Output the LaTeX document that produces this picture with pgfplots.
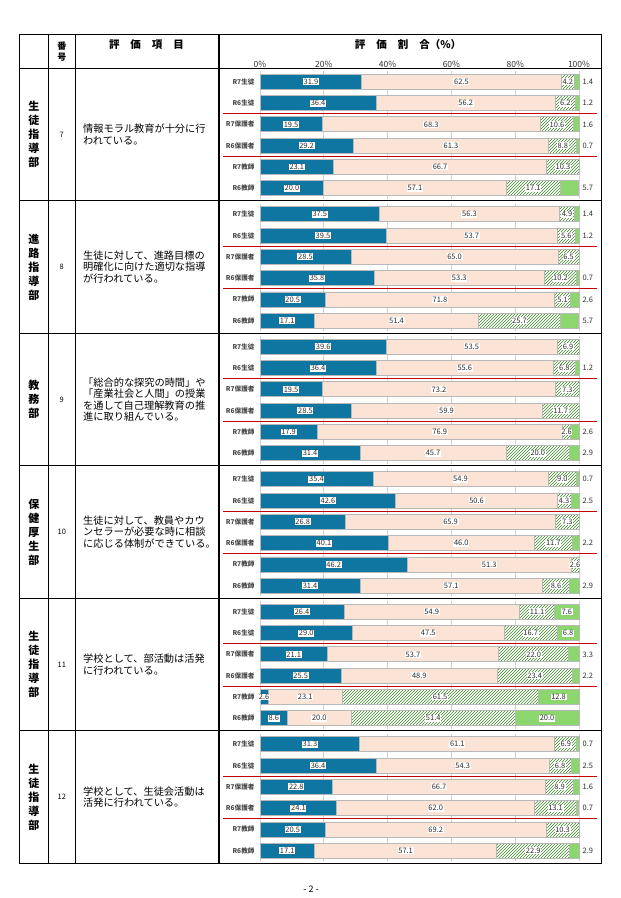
\documentclass[border=0pt]{standalone}
\usepackage{pgfplots}
\pgfplotsset{compat=1.18}
\usepackage{pgfplotstable}
\usetikzlibrary{patterns}
\usepackage{fontspec}
\setmainfont{Noto Sans CJK JP}
\definecolor{cblue}{HTML}{0E76A0}
\definecolor{cpeach}{HTML}{FBE4D5}
\definecolor{cgreen}{HTML}{8CD66E}
\definecolor{chatch}{HTML}{3F8A2A}
\definecolor{cred}{HTML}{C00000}

% columns: a = blue, b = peach, c = hatched, d = green
\pgfplotstableread{
y a b c d
0 31.9 62.5 4.2 1.4
1 36.4 56.2 6.2 1.2
2 19.5 68.3 10.6 1.6
3 29.2 61.3 8.8 0.7
4 23.1 66.7 10.3 0
5 20.0 57.1 17.1 5.7
}\tblA
\pgfplotstableread{
y a b c d
0 37.5 56.3 4.9 1.4
1 39.5 53.7 5.6 1.2
2 28.5 65.0 6.5 0
3 35.8 53.3 10.2 0.7
4 20.5 71.8 5.1 2.6
5 17.1 51.4 25.7 5.7
}\tblB
\pgfplotstableread{
y a b c d
0 39.6 53.5 6.9 0
1 36.4 55.6 6.8 1.2
2 19.5 73.2 7.3 0
3 28.5 59.9 11.7 0
4 17.9 76.9 2.6 2.6
5 31.4 45.7 20.0 2.9
}\tblC
\pgfplotstableread{
y a b c d
0 35.4 54.9 9.0 0.7
1 42.6 50.6 4.3 2.5
2 26.8 65.9 7.3 0
3 40.1 46.0 11.7 2.2
4 46.2 51.3 2.6 0
5 31.4 57.1 8.6 2.9
}\tblD
\pgfplotstableread{
y a b c d
0 26.4 54.9 11.1 7.6
1 29.0 47.5 16.7 6.8
2 21.1 53.7 22.0 3.3
3 25.5 48.9 23.4 2.2
4 2.6 23.1 61.5 12.8
5 8.6 20.0 51.4 20.0
}\tblE
\pgfplotstableread{
y a b c d
0 31.3 61.1 6.9 0.7
1 36.4 54.3 6.8 2.5
2 22.8 66.7 8.9 1.6
3 24.1 62.0 13.1 0.7
4 20.5 69.2 10.3 0
5 17.1 57.1 22.9 2.9
}\tblF

\pgfplotsset{
  chartbase/.style={
    xbar stacked, bar width=15pt,
    width=319pt, height=127.8pt, scale only axis,
    anchor=north west,
    xmin=0, xmax=100, ymin=-0.5, ymax=5.5, y dir=reverse,
    axis line style={draw=none},
    xtick={0,20,40,60,80,100}, xticklabels={},
    ytick={0,1,2,3,4,5},
    yticklabels={R7生徒,R6生徒,R7保護者,R6保護者,R7教師,R6教師},
    tick style={draw=none},
    xmajorgrids, major grid style={draw=black!18, line width=0.8pt},
    yticklabel style={font=\fontsize{6.6}{7}\selectfont\bfseries, text=black!72, xshift=-2pt},
    clip=false,
    every axis plot/.append style={draw=black!28, line width=0.8pt},
  },
  overlaybase/.style={
    width=319pt, height=127.8pt, scale only axis, anchor=north west,
    xmin=0, xmax=100, ymin=-0.5, ymax=5.5, y dir=reverse,
    hide axis, clip=false,
  },
  lblnode/.style={
    draw=none, mark=none, nodes near coords, point meta=explicit symbolic,
    every node near coord/.append style={anchor=center,
      fill=white, inner sep=0.7pt,
      font=\fontsize{7.5}{8}\selectfont, text=black!82},
  },
}

\newcommand{\chartblock}[4]{%
\begin{axis}[chartbase, at={(260pt,#1pt)}, #4]
\addplot[fill=cblue] table[x=a,y=y] {#2};
\addplot[fill=cpeach] table[x=b,y=y] {#2};
\addplot[fill=white, postaction={pattern=north east lines, pattern color=chatch}] table[x=c,y=y] {#2};
\addplot[fill=cgreen] table[x=d,y=y] {#2};
\end{axis}
\begin{axis}[overlaybase, at={(260pt,#1pt)}]
\addplot[lblnode] table[x expr=\thisrow{a}/2, y=y, meta=a] {#2};
\addplot[lblnode] table[x expr=\thisrow{a}+\thisrow{b}/2, y=y, meta=b] {#2};
\addplot[lblnode] table[x expr=\thisrow{a}+\thisrow{b}+\thisrow{c}/2, y=y, meta=c] {#2};
\addplot[lblnode] coordinates {#3};
\end{axis}
\draw[cred, line width=1pt] (223,#1-42.6) -- (597,#1-42.6);
\draw[cred, line width=1pt] (223,#1-85.2) -- (597,#1-85.2);
}

\begin{document}
\begin{tikzpicture}[x=1pt,y=1pt]
\fill[white] (0,0) rectangle (621,898);
\useasboundingbox (0,0) rectangle (621,898);

\chartblock{826.85}{\tblA}{(102.8,0)[1.4] (102.8,1)[1.2] (102.8,2)[1.6] (102.8,3)[0.7] (102.8,5)[5.7]}{xticklabels={0\%,20\%,40\%,60\%,80\%,100\%}, xticklabel pos=upper, xticklabel style={font=\fontsize{8.5}{9}\selectfont, text=black!80, yshift=0.5pt}}
\chartblock{694.35}{\tblB}{(102.8,0)[1.4] (102.8,1)[1.2] (102.8,3)[0.7] (102.8,4)[2.6] (102.8,5)[5.7]}{}
\chartblock{561.85}{\tblC}{(102.8,1)[1.2] (102.8,4)[2.6] (102.8,5)[2.9]}{}
\chartblock{429.35}{\tblD}{(102.8,0)[0.7] (102.8,1)[2.5] (102.8,3)[2.2] (102.8,5)[2.9]}{}
\chartblock{296.85}{\tblE}{(96.2,0)[7.6] (96.6,1)[6.8] (102.8,2)[3.3] (102.8,3)[2.2] (93.6,4)[12.8] (90,5)[20.0]}{}
\chartblock{164.35}{\tblF}{(102.8,0)[0.7] (102.8,1)[2.5] (102.8,2)[1.6] (102.8,3)[0.7] (102.8,5)[2.9]}{}

% table frame
\begin{scope}[line width=1.2pt]
\draw (19.3,34.7) rectangle (601.7,863.5);
\draw (48.3,34.7) -- (48.3,863.5);
\draw (75.3,34.7) -- (75.3,863.5);
\draw (219,34.7) -- (219,863.5);
\foreach \yy in {829.7,697.2,564.7,432.2,299.7,167.2} \draw (19.3,\yy) -- (601.7,\yy);
\end{scope}

% header
\node[font=\fontsize{9}{11.5}\selectfont\bfseries, align=center] at (61.8,846.5) {番\\号};
\node[font=\fontsize{10.5}{12}\selectfont\bfseries] at (146.5,853) {評\hspace{11pt}価\hspace{11pt}項\hspace{11pt}目};
\node[font=\fontsize{10.5}{12}\selectfont\bfseries] at (408,853) {評\hspace{11pt}価\hspace{11pt}割\hspace{11pt}合（\%）};

% left columns
\begin{scope}[every node/.style={font=\fontsize{11}{14}\selectfont\bfseries, align=center}]
\node at (33.8,763.45) {生\\徒\\指\\導\\部};
\node at (33.8,630.95) {進\\路\\指\\導\\部};
\node at (33.8,498.45) {教\\務\\部};
\node at (33.8,365.95) {保\\健\\厚\\生\\部};
\node at (33.8,233.45) {生\\徒\\指\\導\\部};
\node at (33.8,100.95) {生\\徒\\指\\導\\部};
\end{scope}
\begin{scope}[every node/.style={font=\fontsize{7.5}{9}\selectfont}]
\node at (61.8,763.45) {7};
\node at (61.8,630.95) {8};
\node at (61.8,498.45) {9};
\node at (61.8,365.95) {10};
\node at (61.8,233.45) {11};
\node at (61.8,100.95) {12};
\end{scope}
\begin{scope}[every node/.style={font=\fontsize{10.2}{11.4}\selectfont, align=left, anchor=west, inner sep=0pt}]
\node at (83,763.45) {情報モラル教育が十分に行\\われている。};
\node at (83,630.95) {生徒に対して、進路目標の\\明確化に向けた適切な指導\\が行われている。};
\node at (83,498.45) {「総合的な探究の時間」や\\「産業社会と人間」の授業\\を通して自己理解教育の推\\進に取り組んでいる。};
\node at (83,365.95) {生徒に対して、教員やカウ\\ンセラーが必要な時に相談\\に応じる体制ができている。};
\node at (83,233.45) {学校として、部活動は活発\\に行われている。};
\node at (83,100.95) {学校として、生徒会活動は\\活発に行われている。};
\end{scope}

\node[font=\fontsize{9}{10}\selectfont] at (311,9) {- 2 -};
\end{tikzpicture}
\end{document}
